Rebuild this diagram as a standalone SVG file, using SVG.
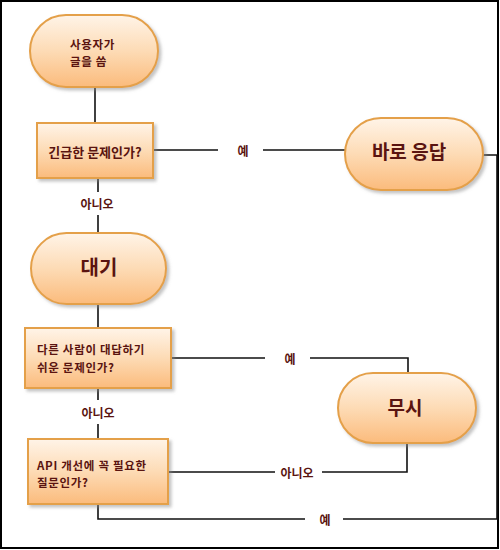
<svg xmlns="http://www.w3.org/2000/svg" width="500" height="550" viewBox="0 0 500 550">
<defs>
<linearGradient id="g" x1="0" y1="0" x2="0" y2="1">
<stop offset="0" stop-color="#fff4e8"/>
<stop offset="0.5" stop-color="#fddbb5"/>
<stop offset="1" stop-color="#fbbb7c"/>
</linearGradient>
<filter id="sh" x="-10%" y="-10%" width="130%" height="140%">
<feDropShadow dx="2.5" dy="2.5" stdDeviation="1.5" flood-color="#888" flood-opacity="0.5"/>
</filter>
</defs>
<style>
.n{fill:url(#g);stroke:#e4a04a;stroke-width:2;filter:url(#sh)}
.c{fill:none;stroke:#111;stroke-width:1.6}
text{font-family:"Noto Sans CJK KR","Noto Sans",sans-serif;font-weight:bold;fill:#5a1410}
.s{font-size:13px}
.m{font-size:11.5px;letter-spacing:0.7px}
.l{font-size:19px}
.lb{font-size:12px;text-anchor:middle;dominant-baseline:central}
</style>
<rect x="1" y="1" width="497" height="547" fill="#fff" stroke="#000" stroke-width="2"/>
<g id="connectors">
<path class="c" d="M95,87V123"/>
<path class="c" d="M153,150H218M263,150H345"/>
<path class="c" d="M483,155H497V519H343M305,519H98V505"/>
<path class="c" d="M98,178V192M98,215V233"/>
<path class="c" d="M98,304V328"/>
<path class="c" d="M171,358H265M310,358H408V373"/>
<path class="c" d="M98,388V400M98,424V439"/>
<path class="c" d="M407,443V472H322M275,472H168"/>
<text class="lb" x="243" y="150">예</text>
<text class="lb" x="325" y="519">예</text>
<text class="lb" x="97" y="203">아니오</text>
<text class="lb" x="290" y="358">예</text>
<text class="lb" x="98" y="412">아니오</text>
<text class="lb" x="297" y="472">아니오</text>
</g>
<g id="start">
<rect class="n" x="30" y="15" width="128" height="72" rx="36"/>
<text class="m" x="70" y="48.5">사용자가<tspan x="70" y="66">글을 씀</tspan></text>
</g>
<g id="urgent">
<rect class="n" x="37" y="123" width="116" height="55"/>
<text class="s" x="95" y="157" text-anchor="middle">긴급한 문제인가?</text>
</g>
<g id="reply">
<rect class="n" x="345" y="118" width="138" height="72" rx="36"/>
<text class="l" x="409" y="159" text-anchor="middle">바로 응답</text>
</g>
<g id="wait">
<rect class="n" x="31" y="233" width="135" height="71" rx="35.5"/>
<text class="l" x="99" y="275" text-anchor="middle" style="font-size:20px">대기</text>
</g>
<g id="easy">
<rect class="n" x="25" y="328" width="146" height="60"/>
<text class="m" x="37" y="354">다른 사람이 대답하기<tspan x="37" y="371.5">쉬운 문제인가?</tspan></text>
</g>
<g id="ignore">
<rect class="n" x="338" y="373" width="138" height="70" rx="35"/>
<text class="l" x="405" y="415" text-anchor="middle">무시</text>
</g>
<g id="api">
<rect class="n" x="28" y="439" width="140" height="65"/>
<text class="m" x="37" y="469.5">API 개선에 꼭 필요한<tspan x="37" y="487">질문인가?</tspan></text>
</g>
</svg>
